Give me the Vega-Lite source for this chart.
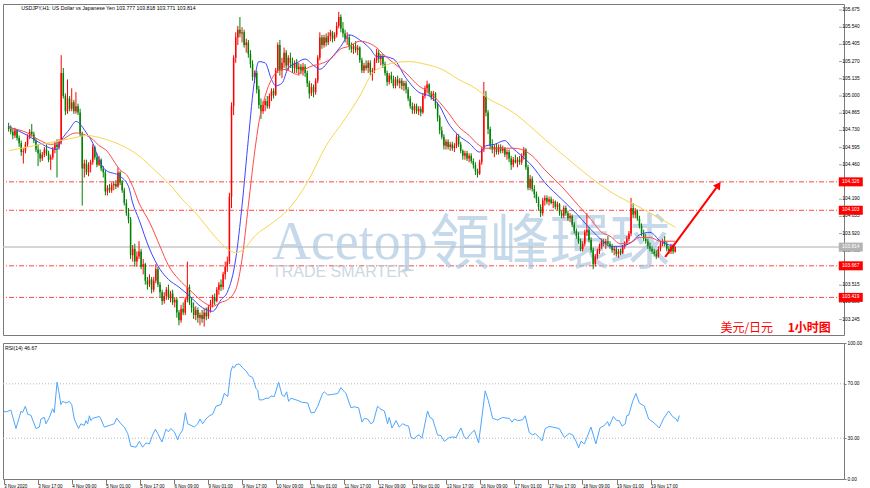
{
"$schema":"https://vega.github.io/schema/vega-lite/v6.json",
"background":"#ffffff",
"padding":{"left":1,"top":3,"right":0,"bottom":0},
"spacing":3,
"config":{"view":{"stroke":"#7a7a7a","strokeWidth":1},"font":"Liberation Sans","axis":{"labelFont":"Liberation Sans","labelColor":"#000000","domainColor":"#7a7a7a","tickColor":"#7a7a7a","grid":false,"labelOverlap":false,"labelBound":false,"labelSeparation":0},"axisY":{"labelOverlap":false}},
"datasets":{
"candles":[
{"i":0,"o":104.76,"h":104.79,"l":104.72,"c":104.74},{"i":1,"o":104.74,"h":104.77,"l":104.70,"c":104.72},{"i":2,"o":104.72,"h":104.74,"l":104.66,"c":104.69},{"i":3,"o":104.69,"h":104.75,"l":104.67,"c":104.73},{"i":4,"o":104.73,"h":104.74,"l":104.65,"c":104.67},{"i":5,"o":104.67,"h":104.69,"l":104.60,"c":104.63},{"i":6,"o":104.63,"h":104.65,"l":104.53,"c":104.56},{"i":7,"o":104.56,"h":104.59,"l":104.47,"c":104.57},{"i":8,"o":104.57,"h":104.64,"l":104.55,"c":104.62},{"i":9,"o":104.62,"h":104.70,"l":104.60,"c":104.68},
{"i":10,"o":104.68,"h":104.74,"l":104.66,"c":104.72},{"i":11,"o":104.72,"h":104.78,"l":104.68,"c":104.70},{"i":12,"o":104.70,"h":104.72,"l":104.63,"c":104.65},{"i":13,"o":104.65,"h":104.67,"l":104.56,"c":104.58},{"i":14,"o":104.58,"h":104.62,"l":104.45,"c":104.55},{"i":15,"o":104.55,"h":104.58,"l":104.48,"c":104.51},{"i":16,"o":104.51,"h":104.56,"l":104.49,"c":104.54},{"i":17,"o":104.54,"h":104.60,"l":104.52,"c":104.58},{"i":18,"o":104.58,"h":104.62,"l":104.53,"c":104.55},{"i":19,"o":104.55,"h":104.57,"l":104.48,"c":104.50},
{"i":20,"o":104.50,"h":104.54,"l":104.42,"c":104.52},{"i":21,"o":104.52,"h":104.60,"l":104.50,"c":104.58},{"i":22,"o":104.58,"h":104.64,"l":104.55,"c":104.62},{"i":23,"o":104.62,"h":104.66,"l":104.36,"c":104.60},{"i":24,"o":104.60,"h":104.66,"l":104.58,"c":104.64},{"i":25,"o":104.64,"h":105.32,"l":104.62,"c":105.18},{"i":26,"o":105.18,"h":105.22,"l":104.98,"c":105.00},{"i":27,"o":105.00,"h":105.02,"l":104.85,"c":104.88},{"i":28,"o":104.88,"h":105.13,"l":104.86,"c":104.98},{"i":29,"o":104.98,"h":105.00,"l":104.88,"c":104.90},
{"i":30,"o":104.90,"h":105.06,"l":104.88,"c":104.95},{"i":31,"o":104.95,"h":104.97,"l":104.86,"c":104.88},{"i":32,"o":104.88,"h":105.03,"l":104.86,"c":104.92},{"i":33,"o":104.92,"h":104.94,"l":104.85,"c":104.87},{"i":34,"o":104.87,"h":104.90,"l":104.68,"c":104.70},{"i":35,"o":104.70,"h":104.72,"l":104.14,"c":104.43},{"i":36,"o":104.43,"h":104.50,"l":104.36,"c":104.47},{"i":37,"o":104.47,"h":104.50,"l":104.38,"c":104.40},{"i":38,"o":104.40,"h":104.48,"l":104.37,"c":104.46},{"i":39,"o":104.46,"h":104.50,"l":104.40,"c":104.48},
{"i":40,"o":104.48,"h":104.62,"l":104.46,"c":104.60},{"i":41,"o":104.60,"h":104.61,"l":104.50,"c":104.52},{"i":42,"o":104.52,"h":104.55,"l":104.44,"c":104.46},{"i":43,"o":104.46,"h":104.53,"l":104.45,"c":104.50},{"i":44,"o":104.50,"h":104.51,"l":104.41,"c":104.43},{"i":45,"o":104.43,"h":104.45,"l":104.36,"c":104.40},{"i":46,"o":104.40,"h":104.42,"l":104.22,"c":104.25},{"i":47,"o":104.25,"h":104.30,"l":104.22,"c":104.28},{"i":48,"o":104.28,"h":104.31,"l":104.24,"c":104.26},{"i":49,"o":104.26,"h":104.32,"l":104.24,"c":104.30},
{"i":50,"o":104.30,"h":104.33,"l":104.26,"c":104.31},{"i":51,"o":104.31,"h":104.34,"l":104.27,"c":104.29},{"i":52,"o":104.29,"h":104.44,"l":104.28,"c":104.40},{"i":53,"o":104.40,"h":104.41,"l":104.30,"c":104.32},{"i":54,"o":104.32,"h":104.34,"l":104.24,"c":104.26},{"i":55,"o":104.26,"h":104.28,"l":104.14,"c":104.16},{"i":56,"o":104.16,"h":104.19,"l":104.06,"c":104.08},{"i":57,"o":104.08,"h":104.12,"l":104.00,"c":104.03},{"i":58,"o":104.03,"h":104.05,"l":103.72,"c":103.75},{"i":59,"o":103.75,"h":103.83,"l":103.70,"c":103.80},
{"i":60,"o":103.80,"h":103.84,"l":103.66,"c":103.70},{"i":61,"o":103.70,"h":103.78,"l":103.66,"c":103.74},{"i":62,"o":103.74,"h":103.86,"l":103.72,"c":103.78},{"i":63,"o":103.78,"h":103.80,"l":103.64,"c":103.66},{"i":64,"o":103.66,"h":103.72,"l":103.60,"c":103.68},{"i":65,"o":103.68,"h":103.69,"l":103.52,"c":103.55},{"i":66,"o":103.55,"h":103.58,"l":103.48,"c":103.52},{"i":67,"o":103.52,"h":103.60,"l":103.50,"c":103.56},{"i":68,"o":103.56,"h":103.58,"l":103.45,"c":103.48},{"i":69,"o":103.48,"h":103.58,"l":103.46,"c":103.55},
{"i":70,"o":103.55,"h":103.68,"l":103.53,"c":103.64},{"i":71,"o":103.64,"h":103.66,"l":103.50,"c":103.52},{"i":72,"o":103.52,"h":103.54,"l":103.42,"c":103.46},{"i":73,"o":103.46,"h":103.48,"l":103.36,"c":103.39},{"i":74,"o":103.39,"h":103.46,"l":103.37,"c":103.43},{"i":75,"o":103.43,"h":103.50,"l":103.40,"c":103.48},{"i":76,"o":103.48,"h":103.52,"l":103.40,"c":103.42},{"i":77,"o":103.42,"h":103.47,"l":103.38,"c":103.45},{"i":78,"o":103.45,"h":103.48,"l":103.36,"c":103.38},{"i":79,"o":103.38,"h":103.42,"l":103.34,"c":103.40},
{"i":80,"o":103.40,"h":103.42,"l":103.26,"c":103.30},{"i":81,"o":103.30,"h":103.32,"l":103.20,"c":103.24},{"i":82,"o":103.24,"h":103.36,"l":103.22,"c":103.33},{"i":83,"o":103.33,"h":103.38,"l":103.28,"c":103.30},{"i":84,"o":103.30,"h":103.42,"l":103.28,"c":103.40},{"i":85,"o":103.40,"h":103.70,"l":103.38,"c":103.50},{"i":86,"o":103.50,"h":103.52,"l":103.36,"c":103.38},{"i":87,"o":103.38,"h":103.42,"l":103.30,"c":103.34},{"i":88,"o":103.34,"h":103.38,"l":103.25,"c":103.28},{"i":89,"o":103.28,"h":103.35,"l":103.24,"c":103.32},
{"i":90,"o":103.32,"h":103.34,"l":103.22,"c":103.26},{"i":91,"o":103.26,"h":103.30,"l":103.20,"c":103.28},{"i":92,"o":103.28,"h":103.32,"l":103.22,"c":103.25},{"i":93,"o":103.25,"h":103.33,"l":103.19,"c":103.30},{"i":94,"o":103.30,"h":103.34,"l":103.24,"c":103.27},{"i":95,"o":103.27,"h":103.36,"l":103.25,"c":103.34},{"i":96,"o":103.34,"h":103.40,"l":103.30,"c":103.37},{"i":97,"o":103.37,"h":103.44,"l":103.34,"c":103.42},{"i":98,"o":103.42,"h":103.45,"l":103.36,"c":103.39},{"i":99,"o":103.39,"h":103.50,"l":103.38,"c":103.48},
{"i":100,"o":103.48,"h":103.54,"l":103.44,"c":103.52},{"i":101,"o":103.52,"h":103.56,"l":103.47,"c":103.50},{"i":102,"o":103.50,"h":103.62,"l":103.48,"c":103.60},{"i":103,"o":103.60,"h":103.70,"l":103.56,"c":103.66},{"i":104,"o":103.66,"h":103.74,"l":103.62,"c":103.70},{"i":105,"o":103.70,"h":104.24,"l":103.68,"c":104.21},{"i":106,"o":104.21,"h":104.95,"l":104.12,"c":104.92},{"i":107,"o":104.92,"h":105.32,"l":104.85,"c":105.30},{"i":108,"o":105.30,"h":105.50,"l":105.26,"c":105.46},{"i":109,"o":105.46,"h":105.55,"l":105.40,"c":105.52},
{"i":110,"o":105.52,"h":105.62,"l":105.46,"c":105.49},{"i":111,"o":105.49,"h":105.54,"l":105.42,"c":105.50},{"i":112,"o":105.50,"h":105.52,"l":105.38,"c":105.40},{"i":113,"o":105.40,"h":105.45,"l":105.34,"c":105.42},{"i":114,"o":105.42,"h":105.44,"l":105.30,"c":105.33},{"i":115,"o":105.33,"h":105.36,"l":105.22,"c":105.25},{"i":116,"o":105.25,"h":105.28,"l":105.12,"c":105.15},{"i":117,"o":105.15,"h":105.20,"l":105.10,"c":105.18},{"i":118,"o":105.18,"h":105.20,"l":105.02,"c":105.05},{"i":119,"o":105.05,"h":105.08,"l":104.90,"c":104.93},
{"i":120,"o":104.93,"h":104.98,"l":104.82,"c":104.88},{"i":121,"o":104.88,"h":104.96,"l":104.86,"c":104.93},{"i":122,"o":104.93,"h":104.98,"l":104.88,"c":104.96},{"i":123,"o":104.96,"h":105.00,"l":104.90,"c":104.92},{"i":124,"o":104.92,"h":105.02,"l":104.90,"c":105.00},{"i":125,"o":105.00,"h":105.06,"l":104.96,"c":105.04},{"i":126,"o":105.04,"h":105.06,"l":104.98,"c":105.01},{"i":127,"o":105.01,"h":105.22,"l":105.00,"c":105.20},{"i":128,"o":105.20,"h":105.42,"l":105.18,"c":105.40},{"i":129,"o":105.40,"h":105.44,"l":105.16,"c":105.20},
{"i":130,"o":105.20,"h":105.30,"l":105.14,"c":105.26},{"i":131,"o":105.26,"h":105.38,"l":105.22,"c":105.34},{"i":132,"o":105.34,"h":105.36,"l":105.20,"c":105.24},{"i":133,"o":105.24,"h":105.32,"l":105.20,"c":105.30},{"i":134,"o":105.30,"h":105.34,"l":105.22,"c":105.26},{"i":135,"o":105.26,"h":105.30,"l":105.18,"c":105.22},{"i":136,"o":105.22,"h":105.28,"l":105.18,"c":105.26},{"i":137,"o":105.26,"h":105.29,"l":105.18,"c":105.21},{"i":138,"o":105.21,"h":105.26,"l":105.16,"c":105.23},{"i":139,"o":105.23,"h":105.25,"l":105.17,"c":105.20},
{"i":140,"o":105.20,"h":105.26,"l":105.16,"c":105.23},{"i":141,"o":105.23,"h":105.25,"l":105.15,"c":105.18},{"i":142,"o":105.18,"h":105.20,"l":105.07,"c":105.10},{"i":143,"o":105.10,"h":105.12,"l":104.98,"c":105.02},{"i":144,"o":105.02,"h":105.10,"l":105.00,"c":105.07},{"i":145,"o":105.07,"h":105.09,"l":104.99,"c":105.03},{"i":146,"o":105.03,"h":105.14,"l":105.01,"c":105.12},{"i":147,"o":105.12,"h":105.32,"l":105.10,"c":105.30},{"i":148,"o":105.30,"h":105.50,"l":105.28,"c":105.46},{"i":149,"o":105.46,"h":105.48,"l":105.37,"c":105.40},
{"i":150,"o":105.40,"h":105.48,"l":105.38,"c":105.46},{"i":151,"o":105.46,"h":105.49,"l":105.39,"c":105.42},{"i":152,"o":105.42,"h":105.50,"l":105.40,"c":105.47},{"i":153,"o":105.47,"h":105.52,"l":105.43,"c":105.50},{"i":154,"o":105.50,"h":105.51,"l":105.42,"c":105.45},{"i":155,"o":105.45,"h":105.50,"l":105.43,"c":105.48},{"i":156,"o":105.48,"h":105.58,"l":105.46,"c":105.55},{"i":157,"o":105.55,"h":105.66,"l":105.53,"c":105.62},{"i":158,"o":105.62,"h":105.64,"l":105.50,"c":105.53},{"i":159,"o":105.53,"h":105.58,"l":105.46,"c":105.49},
{"i":160,"o":105.49,"h":105.52,"l":105.42,"c":105.45},{"i":161,"o":105.45,"h":105.50,"l":105.40,"c":105.46},{"i":162,"o":105.46,"h":105.48,"l":105.36,"c":105.39},{"i":163,"o":105.39,"h":105.42,"l":105.34,"c":105.37},{"i":164,"o":105.37,"h":105.41,"l":105.33,"c":105.39},{"i":165,"o":105.39,"h":105.43,"l":105.34,"c":105.36},{"i":166,"o":105.36,"h":105.40,"l":105.32,"c":105.38},{"i":167,"o":105.38,"h":105.39,"l":105.26,"c":105.28},{"i":168,"o":105.28,"h":105.30,"l":105.18,"c":105.20},{"i":169,"o":105.20,"h":105.26,"l":105.18,"c":105.24},
{"i":170,"o":105.24,"h":105.28,"l":105.20,"c":105.22},{"i":171,"o":105.22,"h":105.28,"l":105.18,"c":105.26},{"i":172,"o":105.26,"h":105.28,"l":105.16,"c":105.19},{"i":173,"o":105.19,"h":105.22,"l":105.12,"c":105.20},{"i":174,"o":105.20,"h":105.30,"l":105.18,"c":105.28},{"i":175,"o":105.28,"h":105.37,"l":105.26,"c":105.34},{"i":176,"o":105.34,"h":105.36,"l":105.26,"c":105.29},{"i":177,"o":105.29,"h":105.33,"l":105.24,"c":105.31},{"i":178,"o":105.31,"h":105.33,"l":105.22,"c":105.25},{"i":179,"o":105.25,"h":105.27,"l":105.16,"c":105.18},
{"i":180,"o":105.18,"h":105.20,"l":105.08,"c":105.11},{"i":181,"o":105.11,"h":105.18,"l":105.09,"c":105.16},{"i":182,"o":105.16,"h":105.19,"l":105.10,"c":105.13},{"i":183,"o":105.13,"h":105.16,"l":105.06,"c":105.08},{"i":184,"o":105.08,"h":105.15,"l":105.06,"c":105.13},{"i":185,"o":105.13,"h":105.16,"l":105.08,"c":105.10},{"i":186,"o":105.10,"h":105.14,"l":105.06,"c":105.12},{"i":187,"o":105.12,"h":105.14,"l":105.05,"c":105.08},{"i":188,"o":105.08,"h":105.12,"l":105.04,"c":105.10},{"i":189,"o":105.10,"h":105.12,"l":105.02,"c":105.05},
{"i":190,"o":105.05,"h":105.07,"l":104.96,"c":104.98},{"i":191,"o":104.98,"h":105.00,"l":104.90,"c":104.92},{"i":192,"o":104.92,"h":104.95,"l":104.86,"c":104.89},{"i":193,"o":104.89,"h":104.94,"l":104.86,"c":104.92},{"i":194,"o":104.92,"h":104.94,"l":104.86,"c":104.88},{"i":195,"o":104.88,"h":104.92,"l":104.85,"c":104.90},{"i":196,"o":104.90,"h":104.92,"l":104.84,"c":104.87},{"i":197,"o":104.87,"h":105.02,"l":104.86,"c":105.00},{"i":198,"o":105.00,"h":105.08,"l":104.98,"c":105.06},{"i":199,"o":105.06,"h":105.12,"l":105.02,"c":105.09},
{"i":200,"o":105.09,"h":105.10,"l":105.00,"c":105.02},{"i":201,"o":105.02,"h":105.04,"l":104.97,"c":104.99},{"i":202,"o":104.99,"h":105.04,"l":104.96,"c":105.02},{"i":203,"o":105.02,"h":105.03,"l":104.90,"c":104.93},{"i":204,"o":104.93,"h":104.95,"l":104.80,"c":104.83},{"i":205,"o":104.83,"h":104.85,"l":104.70,"c":104.73},{"i":206,"o":104.73,"h":104.76,"l":104.66,"c":104.68},{"i":207,"o":104.68,"h":104.70,"l":104.58,"c":104.61},{"i":208,"o":104.61,"h":104.66,"l":104.58,"c":104.64},{"i":209,"o":104.64,"h":104.66,"l":104.58,"c":104.60},
{"i":210,"o":104.60,"h":104.64,"l":104.57,"c":104.62},{"i":211,"o":104.62,"h":104.64,"l":104.57,"c":104.59},{"i":212,"o":104.59,"h":104.63,"l":104.56,"c":104.61},{"i":213,"o":104.61,"h":104.70,"l":104.59,"c":104.68},{"i":214,"o":104.68,"h":104.70,"l":104.60,"c":104.62},{"i":215,"o":104.62,"h":104.64,"l":104.55,"c":104.57},{"i":216,"o":104.57,"h":104.58,"l":104.50,"c":104.53},{"i":217,"o":104.53,"h":104.57,"l":104.50,"c":104.55},{"i":218,"o":104.55,"h":104.57,"l":104.49,"c":104.51},{"i":219,"o":104.51,"h":104.55,"l":104.48,"c":104.53},
{"i":220,"o":104.53,"h":104.55,"l":104.47,"c":104.49},{"i":221,"o":104.49,"h":104.51,"l":104.43,"c":104.46},{"i":222,"o":104.46,"h":104.48,"l":104.38,"c":104.41},{"i":223,"o":104.41,"h":104.43,"l":104.36,"c":104.39},{"i":224,"o":104.39,"h":104.50,"l":104.38,"c":104.48},{"i":225,"o":104.48,"h":104.60,"l":104.46,"c":104.58},{"i":226,"o":104.58,"h":105.11,"l":104.56,"c":105.00},{"i":227,"o":105.00,"h":105.04,"l":104.84,"c":104.87},{"i":228,"o":104.87,"h":104.89,"l":104.70,"c":104.74},{"i":229,"o":104.74,"h":104.76,"l":104.58,"c":104.61},
{"i":230,"o":104.61,"h":104.66,"l":104.55,"c":104.58},{"i":231,"o":104.58,"h":104.62,"l":104.52,"c":104.60},{"i":232,"o":104.60,"h":104.63,"l":104.54,"c":104.56},{"i":233,"o":104.56,"h":104.62,"l":104.54,"c":104.60},{"i":234,"o":104.60,"h":104.62,"l":104.55,"c":104.57},{"i":235,"o":104.57,"h":104.61,"l":104.55,"c":104.59},{"i":236,"o":104.59,"h":104.60,"l":104.52,"c":104.54},{"i":237,"o":104.54,"h":104.58,"l":104.50,"c":104.56},{"i":238,"o":104.56,"h":104.58,"l":104.48,"c":104.51},{"i":239,"o":104.51,"h":104.53,"l":104.42,"c":104.46},
{"i":240,"o":104.46,"h":104.52,"l":104.44,"c":104.50},{"i":241,"o":104.50,"h":104.54,"l":104.47,"c":104.48},{"i":242,"o":104.48,"h":104.52,"l":104.44,"c":104.50},{"i":243,"o":104.50,"h":104.53,"l":104.46,"c":104.48},{"i":244,"o":104.48,"h":104.55,"l":104.46,"c":104.53},{"i":245,"o":104.53,"h":104.60,"l":104.50,"c":104.58},{"i":246,"o":104.58,"h":104.59,"l":104.42,"c":104.44},{"i":247,"o":104.44,"h":104.46,"l":104.26,"c":104.28},{"i":248,"o":104.28,"h":104.38,"l":104.26,"c":104.35},{"i":249,"o":104.35,"h":104.37,"l":104.25,"c":104.27},
{"i":250,"o":104.27,"h":104.30,"l":104.20,"c":104.23},{"i":251,"o":104.23,"h":104.25,"l":104.16,"c":104.19},{"i":252,"o":104.19,"h":104.21,"l":104.10,"c":104.13},{"i":253,"o":104.13,"h":104.15,"l":104.05,"c":104.08},{"i":254,"o":104.08,"h":104.20,"l":104.06,"c":104.18},{"i":255,"o":104.18,"h":104.22,"l":104.14,"c":104.20},{"i":256,"o":104.20,"h":104.22,"l":104.15,"c":104.17},{"i":257,"o":104.17,"h":104.21,"l":104.14,"c":104.19},{"i":258,"o":104.19,"h":104.21,"l":104.15,"c":104.16},{"i":259,"o":104.16,"h":104.19,"l":104.12,"c":104.17},
{"i":260,"o":104.17,"h":104.18,"l":104.11,"c":104.13},{"i":261,"o":104.13,"h":104.17,"l":104.10,"c":104.15},{"i":262,"o":104.15,"h":104.16,"l":104.06,"c":104.08},{"i":263,"o":104.08,"h":104.10,"l":104.04,"c":104.06},{"i":264,"o":104.06,"h":104.14,"l":104.04,"c":104.12},{"i":265,"o":104.12,"h":104.14,"l":104.06,"c":104.08},{"i":266,"o":104.08,"h":104.10,"l":104.02,"c":104.04},{"i":267,"o":104.04,"h":104.08,"l":104.01,"c":104.06},{"i":268,"o":104.06,"h":104.07,"l":103.97,"c":103.99},{"i":269,"o":103.99,"h":104.01,"l":103.92,"c":103.94},
{"i":270,"o":103.94,"h":103.96,"l":103.88,"c":103.90},{"i":271,"o":103.90,"h":103.93,"l":103.84,"c":103.86},{"i":272,"o":103.86,"h":103.88,"l":103.78,"c":103.80},{"i":273,"o":103.80,"h":103.86,"l":103.78,"c":103.84},{"i":274,"o":103.84,"h":103.95,"l":103.82,"c":103.93},{"i":275,"o":103.93,"h":104.08,"l":103.90,"c":103.95},{"i":276,"o":103.95,"h":103.97,"l":103.85,"c":103.87},{"i":277,"o":103.87,"h":103.89,"l":103.77,"c":103.79},{"i":278,"o":103.79,"h":103.81,"l":103.64,"c":103.68},{"i":279,"o":103.68,"h":103.76,"l":103.66,"c":103.74},
{"i":280,"o":103.74,"h":103.80,"l":103.72,"c":103.78},{"i":281,"o":103.78,"h":103.84,"l":103.76,"c":103.82},{"i":282,"o":103.82,"h":103.88,"l":103.80,"c":103.86},{"i":283,"o":103.86,"h":103.88,"l":103.82,"c":103.84},{"i":284,"o":103.84,"h":103.88,"l":103.80,"c":103.86},{"i":285,"o":103.86,"h":103.90,"l":103.82,"c":103.84},{"i":286,"o":103.84,"h":103.86,"l":103.80,"c":103.82},{"i":287,"o":103.82,"h":103.84,"l":103.77,"c":103.79},{"i":288,"o":103.79,"h":103.82,"l":103.75,"c":103.80},{"i":289,"o":103.80,"h":103.82,"l":103.74,"c":103.76},
{"i":290,"o":103.76,"h":103.80,"l":103.73,"c":103.78},{"i":291,"o":103.78,"h":103.80,"l":103.75,"c":103.77},{"i":292,"o":103.77,"h":103.83,"l":103.76,"c":103.82},{"i":293,"o":103.82,"h":103.86,"l":103.80,"c":103.85},{"i":294,"o":103.85,"h":103.90,"l":103.83,"c":103.88},{"i":295,"o":103.88,"h":103.94,"l":103.86,"c":103.92},{"i":296,"o":103.92,"h":104.20,"l":103.90,"c":104.12},{"i":297,"o":104.12,"h":104.16,"l":104.04,"c":104.07},{"i":298,"o":104.07,"h":104.12,"l":104.04,"c":104.10},{"i":299,"o":104.10,"h":104.11,"l":104.02,"c":104.04},
{"i":300,"o":104.04,"h":104.06,"l":103.96,"c":103.98},{"i":301,"o":103.98,"h":104.00,"l":103.90,"c":103.92},{"i":302,"o":103.92,"h":103.95,"l":103.86,"c":103.88},{"i":303,"o":103.88,"h":103.92,"l":103.84,"c":103.86},{"i":304,"o":103.86,"h":103.88,"l":103.80,"c":103.82},{"i":305,"o":103.82,"h":103.85,"l":103.78,"c":103.80},{"i":306,"o":103.80,"h":103.82,"l":103.76,"c":103.78},{"i":307,"o":103.78,"h":103.80,"l":103.74,"c":103.76},{"i":308,"o":103.76,"h":103.79,"l":103.72,"c":103.74},{"i":309,"o":103.74,"h":103.82,"l":103.73,"c":103.80},
{"i":310,"o":103.80,"h":103.86,"l":103.78,"c":103.84},{"i":311,"o":103.84,"h":103.88,"l":103.82,"c":103.86},{"i":312,"o":103.86,"h":103.90,"l":103.82,"c":103.84},{"i":313,"o":103.84,"h":103.86,"l":103.78,"c":103.80},{"i":314,"o":103.80,"h":103.82,"l":103.76,"c":103.78},{"i":315,"o":103.78,"h":103.84,"l":103.76,"c":103.82},{"i":316,"o":103.82,"h":103.84,"l":103.76,"c":103.78},{"i":317,"o":103.777,"h":103.818,"l":103.771,"c":103.814}
],
"ma":[
{"s":"fast","i":0,"v":104.76},{"s":"fast","i":9,"v":104.69},{"s":"fast","i":15,"v":104.63},{"s":"fast","i":20,"v":104.59},{"s":"fast","i":23,"v":104.58},{"s":"fast","i":25,"v":104.65},{"s":"fast","i":29,"v":104.74},{"s":"fast","i":32,"v":104.80},{"s":"fast","i":37,"v":104.71},{"s":"fast","i":40,"v":104.63},{"s":"fast","i":43,"v":104.50},{"s":"fast","i":46,"v":104.42},{"s":"fast","i":53,"v":104.37},{"s":"fast","i":57,"v":104.29},{"s":"fast","i":59,"v":104.16},{"s":"fast","i":62,"v":104.03},{"s":"fast","i":67,"v":103.80},{"s":"fast","i":72,"v":103.64},{"s":"fast","i":76,"v":103.56},{"s":"fast","i":81,"v":103.50},{"s":"fast","i":86,"v":103.43},{"s":"fast","i":92,"v":103.34},{"s":"fast","i":97,"v":103.31},{"s":"fast","i":101,"v":103.40},{"s":"fast","i":104,"v":103.46},{"s":"fast","i":108,"v":103.72},{"s":"fast","i":111,"v":104.14},{"s":"fast","i":114,"v":104.66},{"s":"fast","i":117,"v":105.13},{"s":"fast","i":119,"v":105.27},{"s":"fast","i":122,"v":105.26},{"s":"fast","i":125,"v":105.13},{"s":"fast","i":127,"v":105.08},{"s":"fast","i":130,"v":105.10},{"s":"fast","i":133,"v":105.22},{"s":"fast","i":137,"v":105.26},{"s":"fast","i":141,"v":105.29},{"s":"fast","i":145,"v":105.24},{"s":"fast","i":148,"v":105.21},{"s":"fast","i":153,"v":105.29},{"s":"fast","i":158,"v":105.39},{"s":"fast","i":162,"v":105.48},{"s":"fast","i":167,"v":105.44},{"s":"fast","i":172,"v":105.37},{"s":"fast","i":175,"v":105.31},{"s":"fast","i":178,"v":105.31},{"s":"fast","i":183,"v":105.29},{"s":"fast","i":189,"v":105.14},{"s":"fast","i":195,"v":105.03},{"s":"fast","i":200,"v":105.00},{"s":"fast","i":205,"v":104.92},{"s":"fast","i":209,"v":104.79},{"s":"fast","i":214,"v":104.69},{"s":"fast","i":219,"v":104.63},{"s":"fast","i":224,"v":104.56},{"s":"fast","i":227,"v":104.61},{"s":"fast","i":231,"v":104.62},{"s":"fast","i":236,"v":104.65},{"s":"fast","i":239,"v":104.60},{"s":"fast","i":244,"v":104.53},{"s":"fast","i":249,"v":104.45},{"s":"fast","i":255,"v":104.32},{"s":"fast","i":263,"v":104.19},{"s":"fast","i":271,"v":104.06},{"s":"fast","i":277,"v":103.95},{"s":"fast","i":282,"v":103.87},{"s":"fast","i":286,"v":103.82},{"s":"fast","i":291,"v":103.82},{"s":"fast","i":296,"v":103.85},{"s":"fast","i":300,"v":103.91},{"s":"fast","i":305,"v":103.93},{"s":"fast","i":310,"v":103.86},{"s":"fast","i":317,"v":103.82},
{"s":"mid","i":0,"v":104.75},{"s":"mid","i":9,"v":104.71},{"s":"mid","i":15,"v":104.65},{"s":"mid","i":20,"v":104.62},{"s":"mid","i":23,"v":104.63},{"s":"mid","i":25,"v":104.65},{"s":"mid","i":32,"v":104.71},{"s":"mid","i":37,"v":104.69},{"s":"mid","i":40,"v":104.66},{"s":"mid","i":43,"v":104.61},{"s":"mid","i":46,"v":104.58},{"s":"mid","i":53,"v":104.42},{"s":"mid","i":57,"v":104.36},{"s":"mid","i":59,"v":104.29},{"s":"mid","i":62,"v":104.16},{"s":"mid","i":67,"v":104.01},{"s":"mid","i":72,"v":103.82},{"s":"mid","i":76,"v":103.67},{"s":"mid","i":81,"v":103.56},{"s":"mid","i":86,"v":103.48},{"s":"mid","i":92,"v":103.39},{"s":"mid","i":97,"v":103.35},{"s":"mid","i":101,"v":103.38},{"s":"mid","i":104,"v":103.40},{"s":"mid","i":108,"v":103.48},{"s":"mid","i":111,"v":103.72},{"s":"mid","i":114,"v":104.14},{"s":"mid","i":117,"v":104.56},{"s":"mid","i":119,"v":104.79},{"s":"mid","i":122,"v":105.00},{"s":"mid","i":125,"v":105.13},{"s":"mid","i":127,"v":105.18},{"s":"mid","i":130,"v":105.21},{"s":"mid","i":133,"v":105.20},{"s":"mid","i":137,"v":105.17},{"s":"mid","i":141,"v":105.21},{"s":"mid","i":145,"v":105.24},{"s":"mid","i":148,"v":105.25},{"s":"mid","i":153,"v":105.29},{"s":"mid","i":158,"v":105.37},{"s":"mid","i":162,"v":105.39},{"s":"mid","i":167,"v":105.43},{"s":"mid","i":172,"v":105.41},{"s":"mid","i":175,"v":105.38},{"s":"mid","i":178,"v":105.33},{"s":"mid","i":183,"v":105.26},{"s":"mid","i":189,"v":105.18},{"s":"mid","i":195,"v":105.08},{"s":"mid","i":200,"v":105.03},{"s":"mid","i":205,"v":104.95},{"s":"mid","i":209,"v":104.87},{"s":"mid","i":214,"v":104.76},{"s":"mid","i":219,"v":104.69},{"s":"mid","i":224,"v":104.61},{"s":"mid","i":227,"v":104.59},{"s":"mid","i":231,"v":104.59},{"s":"mid","i":236,"v":104.59},{"s":"mid","i":240,"v":104.59},{"s":"mid","i":244,"v":104.58},{"s":"mid","i":249,"v":104.53},{"s":"mid","i":255,"v":104.42},{"s":"mid","i":263,"v":104.29},{"s":"mid","i":271,"v":104.14},{"s":"mid","i":277,"v":104.03},{"s":"mid","i":282,"v":103.93},{"s":"mid","i":286,"v":103.90},{"s":"mid","i":291,"v":103.84},{"s":"mid","i":296,"v":103.85},{"s":"mid","i":300,"v":103.89},{"s":"mid","i":305,"v":103.89},{"s":"mid","i":310,"v":103.86},{"s":"mid","i":317,"v":103.86},
{"s":"slow","i":0,"v":104.57},{"s":"slow","i":15,"v":104.62},{"s":"slow","i":31,"v":104.67},{"s":"slow","i":37,"v":104.69},{"s":"slow","i":46,"v":104.66},{"s":"slow","i":54,"v":104.61},{"s":"slow","i":62,"v":104.53},{"s":"slow","i":70,"v":104.41},{"s":"slow","i":78,"v":104.28},{"s":"slow","i":82,"v":104.20},{"s":"slow","i":89,"v":104.08},{"s":"slow","i":98,"v":103.90},{"s":"slow","i":104,"v":103.80},{"s":"slow","i":108,"v":103.77},{"s":"slow","i":112,"v":103.80},{"s":"slow","i":117,"v":103.90},{"s":"slow","i":126,"v":104.01},{"s":"slow","i":133,"v":104.11},{"s":"slow","i":142,"v":104.32},{"s":"slow","i":151,"v":104.61},{"s":"slow","i":160,"v":104.82},{"s":"slow","i":167,"v":105.00},{"s":"slow","i":173,"v":105.18},{"s":"slow","i":178,"v":105.23},{"s":"slow","i":183,"v":105.26},{"s":"slow","i":190,"v":105.27},{"s":"slow","i":198,"v":105.25},{"s":"slow","i":206,"v":105.21},{"s":"slow","i":214,"v":105.13},{"s":"slow","i":222,"v":105.06},{"s":"slow","i":229,"v":104.97},{"s":"slow","i":235,"v":104.92},{"s":"slow","i":240,"v":104.87},{"s":"slow","i":255,"v":104.66},{"s":"slow","i":270,"v":104.45},{"s":"slow","i":286,"v":104.25},{"s":"slow","i":302,"v":104.11},{"s":"slow","i":317,"v":103.97}
],
"rsi":[
{"i":0,"r":50.0},{"i":1.1,"r":49.3},{"i":3.4,"r":50.7},{"i":5.8,"r":37.1},{"i":8.2,"r":50.0},{"i":8.9,"r":48.8},{"i":10.2,"r":53.5},{"i":11.3,"r":47.6},{"i":12.8,"r":46.9},{"i":15.2,"r":37.1},{"i":16.8,"r":38.2},{"i":17.5,"r":44.1},{"i":19.1,"r":45.3},{"i":19.9,"r":40.6},{"i":21.5,"r":45.3},{"i":23.0,"r":51.6},{"i":23.8,"r":48.8},{"i":25.1,"r":71.2},{"i":26.2,"r":61.8},{"i":26.9,"r":54.7},{"i":27.7,"r":57.1},{"i":29.3,"r":55.9},{"i":30.9,"r":57.1},{"i":32.0,"r":54.7},{"i":33.2,"r":44.1},{"i":35.2,"r":37.1},{"i":36.3,"r":40.6},{"i":37.9,"r":39.4},{"i":38.7,"r":42.9},{"i":39.5,"r":40.6},{"i":40.3,"r":46.5},{"i":41.0,"r":42.9},{"i":41.8,"r":44.6},{"i":43.4,"r":45.3},{"i":45.0,"r":46.0},{"i":45.7,"r":44.1},{"i":47.3,"r":38.2},{"i":49.7,"r":39.4},{"i":52.0,"r":40.6},{"i":53.1,"r":44.8},{"i":55.1,"r":40.6},{"i":56.7,"r":38.2},{"i":58.3,"r":33.5},{"i":59.8,"r":24.1},{"i":62.2,"r":23.4},{"i":63.8,"r":27.7},{"i":65.3,"r":23.4},{"i":66.9,"r":26.5},{"i":68.5,"r":25.8},{"i":70.0,"r":32.4},{"i":71.3,"r":36.6},{"i":72.4,"r":33.5},{"i":74.4,"r":27.2},{"i":76.3,"r":36.6},{"i":77.4,"r":34.7},{"i":78.6,"r":37.1},{"i":80.2,"r":34.7},{"i":81.8,"r":28.8},{"i":82.6,"r":32.4},{"i":84.1,"r":35.9},{"i":85.4,"r":48.8},{"i":86.5,"r":40.6},{"i":89.6,"r":38.2},{"i":91.2,"r":40.6},{"i":92.3,"r":44.1},{"i":93.5,"r":40.6},{"i":95.1,"r":44.1},{"i":96.7,"r":46.5},{"i":98.2,"r":47.6},{"i":99.8,"r":53.5},{"i":102.1,"r":54.7},{"i":103.7,"r":62.9},{"i":105.3,"r":60.6},{"i":106.8,"r":79.4},{"i":107.6,"r":82.9},{"i":108.4,"r":81.8},{"i":109.2,"r":84.1},{"i":110.7,"r":84.6},{"i":112.3,"r":81.8},{"i":113.9,"r":79.4},{"i":115.4,"r":75.9},{"i":117.0,"r":74.7},{"i":118.6,"r":66.5},{"i":119.4,"r":65.3},{"i":120.1,"r":58.2},{"i":121.7,"r":58.2},{"i":123.3,"r":59.4},{"i":124.8,"r":59.4},{"i":125.6,"r":61.1},{"i":127.2,"r":60.6},{"i":129.2,"r":71.2},{"i":130.8,"r":61.8},{"i":131.9,"r":60.6},{"i":133.0,"r":64.1},{"i":133.9,"r":57.1},{"i":135.0,"r":59.4},{"i":137.4,"r":58.2},{"i":140.5,"r":56.3},{"i":142.9,"r":55.9},{"i":144.4,"r":48.8},{"i":146.0,"r":48.8},{"i":147.6,"r":53.5},{"i":149.9,"r":62.9},{"i":150.7,"r":64.1},{"i":152.3,"r":61.8},{"i":154.6,"r":62.2},{"i":157.0,"r":62.9},{"i":158.5,"r":67.2},{"i":160.1,"r":64.1},{"i":160.9,"r":62.9},{"i":162.4,"r":55.9},{"i":163.2,"r":52.4},{"i":164.8,"r":53.1},{"i":166.8,"r":52.4},{"i":168.4,"r":41.8},{"i":169.5,"r":44.6},{"i":171.0,"r":44.1},{"i":172.6,"r":40.6},{"i":173.7,"r":41.8},{"i":175.7,"r":53.5},{"i":177.3,"r":51.2},{"i":178.9,"r":50.0},{"i":180.4,"r":40.6},{"i":181.2,"r":45.3},{"i":182.5,"r":37.5},{"i":184.4,"r":42.9},{"i":185.9,"r":38.2},{"i":187.5,"r":40.6},{"i":189.1,"r":39.4},{"i":190.3,"r":38.9},{"i":191.4,"r":30.7},{"i":193.0,"r":29.5},{"i":194.1,"r":31.6},{"i":195.3,"r":32.4},{"i":196.6,"r":30.0},{"i":199.2,"r":50.0},{"i":200.3,"r":45.3},{"i":201.6,"r":44.1},{"i":203.9,"r":32.4},{"i":205.5,"r":31.9},{"i":207.1,"r":27.7},{"i":209.4,"r":30.5},{"i":211.0,"r":30.9},{"i":212.6,"r":30.5},{"i":214.9,"r":37.5},{"i":216.5,"r":30.7},{"i":217.6,"r":29.5},{"i":219.6,"r":33.5},{"i":221.2,"r":35.9},{"i":223.2,"r":26.5},{"i":226.3,"r":64.8},{"i":227.8,"r":57.5},{"i":229.8,"r":44.6},{"i":232.1,"r":43.4},{"i":234.5,"r":45.3},{"i":236.1,"r":44.8},{"i":237.6,"r":44.6},{"i":238.9,"r":41.8},{"i":240.0,"r":44.1},{"i":241.5,"r":42.9},{"i":243.9,"r":43.6},{"i":245.1,"r":46.5},{"i":247.0,"r":34.2},{"i":248.6,"r":32.4},{"i":249.8,"r":33.5},{"i":251.7,"r":30.5},{"i":253.0,"r":28.1},{"i":254.5,"r":37.1},{"i":256.4,"r":38.7},{"i":261.1,"r":37.1},{"i":263.5,"r":30.5},{"i":265.8,"r":33.5},{"i":267.4,"r":32.4},{"i":269.0,"r":27.7},{"i":270.2,"r":22.9},{"i":271.3,"r":27.7},{"i":272.9,"r":25.8},{"i":274.1,"r":30.5},{"i":276.0,"r":38.2},{"i":278.3,"r":25.8},{"i":280.2,"r":37.5},{"i":282.3,"r":39.4},{"i":283.8,"r":42.2},{"i":284.6,"r":38.9},{"i":286.5,"r":46.0},{"i":288.1,"r":42.9},{"i":289.3,"r":42.9},{"i":290.6,"r":38.9},{"i":292.1,"r":40.6},{"i":292.8,"r":46.5},{"i":293.7,"r":46.9},{"i":295.6,"r":57.1},{"i":297.1,"r":62.9},{"i":298.7,"r":55.9},{"i":301.1,"r":53.5},{"i":303.1,"r":44.1},{"i":305.8,"r":41.1},{"i":308.1,"r":37.5},{"i":310.0,"r":44.1},{"i":312.5,"r":50.0},{"i":314.4,"r":45.8},{"i":316.0,"r":44.1},{"i":316.7,"r":42.2},{"i":317.5,"r":46.67}
],
"levels":[{"p":104.326},{"p":104.103},{"p":103.667},{"p":103.419}],
"yticks":[{"p":103.245},{"p":103.38},{"p":103.515},{"p":103.65},{"p":103.785},{"p":103.92},{"p":104.055},{"p":104.19},{"p":104.325},{"p":104.46},{"p":104.595},{"p":104.73},{"p":104.865},{"p":105.0},{"p":105.135},{"p":105.27},{"p":105.405},{"p":105.54},{"p":105.675}]
},
"vconcat":[
{"width":841,"height":331,
"layer":[
{"data":{"name":"yticks"},"mark":{"type":"tick","orient":"horizontal","color":"#7a7a7a","thickness":1,"size":3},
 "encoding":{"x":{"datum":395.6,"axis":null,"scale":{"domain":[-0.3,394.9],"nice":false,"zero":false}},
 "y":{"field":"p","type":"quantitative","title":null,"scale":{"domain":[103.124,105.722],"zero":false,"nice":false},"axis":null}}},
{"data":{"name":"yticks"},"mark":{"type":"text","align":"left","baseline":"middle","fontSize":4.8,"color":"#000000","font":"Liberation Sans"},
 "encoding":{"x":{"datum":396.5,"axis":null},"y":{"field":"p","type":"quantitative","title":null},"text":{"field":"p","type":"quantitative","format":".3f"}}},
{"data":{"name":"levels"},"mark":{"type":"rule","color":"#ff4545","strokeWidth":1,"strokeDash":[5,2,1,2]},
 "encoding":{"y":{"field":"p","type":"quantitative","title":null}}},
{"data":{"values":[{}]},"mark":{"type":"rule","color":"#c8c8c8","strokeWidth":1.5},"encoding":{"y":{"datum":103.814}}},
{"data":{"values":[{}]},"mark":{"type":"text","align":"left","baseline":"alphabetic","font":"Liberation Serif","fontSize":54,"color":"#a9c5e0","opacity":0.65},"encoding":{"x":{"datum":125.2,"axis":null},"y":{"datum":103.72},"text":{"value":"Acetop"}}},
{"data":{"values":[{}]},"mark":{"type":"text","align":"left","baseline":"middle","font":"Liberation Sans","fontSize":16,"color":"#bccbd8","opacity":0.75},"encoding":{"x":{"datum":125.2,"axis":null},"y":{"datum":103.618},"text":{"value":"TRADE SMARTER"}}},
{"data":{"values":[{}]},"mark":{"type":"text","align":"left","baseline":"middle","font":"Noto Sans CJK TC","fontSize":60,"color":"#a9c5e0","opacity":0.65},"encoding":{"x":{"datum":200.4,"axis":null},"y":{"datum":103.822},"text":{"value":"領峰環球"}}},
{"data":{"name":"candles"},"mark":{"type":"rule","strokeWidth":1},
 "encoding":{"x":{"field":"i","type":"quantitative","title":null,"axis":null},
 "y":{"field":"l","type":"quantitative","title":null},"y2":{"field":"h"},
 "color":{"condition":{"test":"datum.c >= datum.o","value":"#ff0000"},"value":"#008000"}}},
{"data":{"name":"candles"},"mark":{"type":"bar","size":1.5},
 "encoding":{"x":{"field":"i","type":"quantitative","title":null,"axis":null},
 "y":{"field":"o","type":"quantitative","title":null},"y2":{"field":"c"},
 "color":{"condition":{"test":"datum.c >= datum.o","value":"#ff0000"},"value":"#008000"}}},
{"data":{"name":"ma"},"mark":{"type":"line","strokeWidth":1,"interpolate":"monotone"},
 "encoding":{"x":{"field":"i","type":"quantitative","title":null,"axis":null},"y":{"field":"v","type":"quantitative","title":null},
 "color":{"field":"s","type":"nominal","legend":null,"scale":{"domain":["fast","mid","slow"],"range":["#3c46ff","#ff4a4a","#f7d650"]}}}},
{"data":{"values":[{}]},"mark":{"type":"rule","color":"#ff0000","strokeWidth":2},"encoding":{"x":{"datum":312.2,"axis":null},"y":{"datum":103.736},"x2":{"datum":336.6},"y2":{"datum":104.28}}},
{"data":{"values":[{}]},"mark":{"type":"point","shape":"triangle-up","filled":true,"color":"#ff0000","opacity":1,"size":70,"angle":36},"encoding":{"x":{"datum":337.6,"axis":null},"y":{"datum":104.301}}},
{"data":{"values":[{}]},"mark":{"type":"text","align":"left","baseline":"middle","fontSize":5.2,"color":"#000000","font":"Liberation Sans"},"encoding":{"x":{"datum":6.0,"axis":null},"y":{"datum":105.691},"text":{"value":"USDJPY,H1:  US Dollar vs Japanese Yen  103.777 103.818 103.771 103.814"}}},
{"data":{"values":[{}]},"mark":{"type":"text","align":"left","baseline":"middle","fontSize":12,"color":"#ff0000","font":"Noto Sans CJK SC"},"encoding":{"x":{"datum":338.5,"axis":null},"y":{"datum":103.179},"text":{"value":"美元/日元"}}},
{"data":{"values":[{}]},"mark":{"type":"text","align":"left","baseline":"middle","fontSize":12,"fontWeight":"bold","color":"#ff0000","font":"Noto Sans CJK SC"},"encoding":{"x":{"datum":370.5,"axis":null},"y":{"datum":103.179},"text":{"value":"1小时图"}}},
{"data":{"name":"levels"},"mark":{"type":"tick","orient":"horizontal","color":"#ff0000","opacity":1,"thickness":9,"size":24},"encoding":{"x":{"datum":400.5,"axis":null},"y":{"field":"p","type":"quantitative","title":null}}},
{"data":{"name":"levels"},"mark":{"type":"text","color":"#ffffff","fontSize":4.8,"align":"center","baseline":"middle","font":"Liberation Sans"},"encoding":{"x":{"datum":400.5,"axis":null},"y":{"field":"p","type":"quantitative","title":null},"text":{"field":"p","type":"quantitative","format":".3f"}}},
{"data":{"values":[{}]},"mark":{"type":"tick","orient":"horizontal","color":"#b4b4b4","opacity":1,"thickness":9,"size":24},"encoding":{"x":{"datum":400.5,"axis":null},"y":{"datum":103.814}}},
{"data":{"values":[{}]},"mark":{"type":"text","color":"#ffffff","fontSize":4.8,"align":"center","baseline":"middle","font":"Liberation Sans"},"encoding":{"x":{"datum":400.5,"axis":null},"y":{"datum":103.814},"text":{"value":"103.814"}}}
]},
{"width":841,"height":136,
"layer":[
{"data":{"values":[{"lvl":70},{"lvl":30}]},"mark":{"type":"rule","color":"#b8b8b8","strokeWidth":1,"strokeDash":[1,2]},
 "encoding":{"y":{"field":"lvl","type":"quantitative","title":null,"scale":{"domain":[0,100],"nice":false,"zero":false},
 "axis":{"orient":"right","title":null,"values":[0,30,70,100],"format":".2f","labelFontSize":4.8,"tickSize":2,"labelPadding":1,"domain":false,"labelOverlap":false,"labelBound":false}}}},
{"data":{"name":"rsi"},"mark":{"type":"line","color":"#4da6ff","strokeWidth":1},
 "encoding":{"x":{"field":"i","type":"quantitative","title":null,"scale":{"domain":[-0.3,394.9],"nice":false,"zero":false},
 "axis":{"orient":"bottom","title":null,"values":[0,16,32,48,64,80,96,112,128,144,160,176,192,208,224,240,256,272,288,304],
 "labelExpr":"['3 Nov 2020','3 Nov 17:00','4 Nov 09:00','5 Nov 01:00','5 Nov 17:00','6 Nov 09:00','9 Nov 01:00','9 Nov 17:00','10 Nov 09:00','11 Nov 01:00','11 Nov 17:00','12 Nov 09:00','13 Nov 01:00','13 Nov 17:00','16 Nov 09:00','17 Nov 01:00','17 Nov 17:00','18 Nov 09:00','19 Nov 01:00','19 Nov 17:00'][round(datum.value/16)]",
 "labelAlign":"left","labelDx":1,"labelBaseline":"middle","labelFontSize":4.5,"tickSize":5,"labelPadding":2,"domain":false,"labelOverlap":false,"labelBound":false,"labelFlush":false}},
 "y":{"field":"r","type":"quantitative","title":null}}},
{"data":{"values":[{}]},"mark":{"type":"text","align":"left","baseline":"middle","fontSize":5.2,"color":"#000000","font":"Liberation Sans"},"encoding":{"x":{"datum":0.6},"y":{"datum":96.5},"text":{"value":"RSI(14) 46.67"}}}
]}
]
}
